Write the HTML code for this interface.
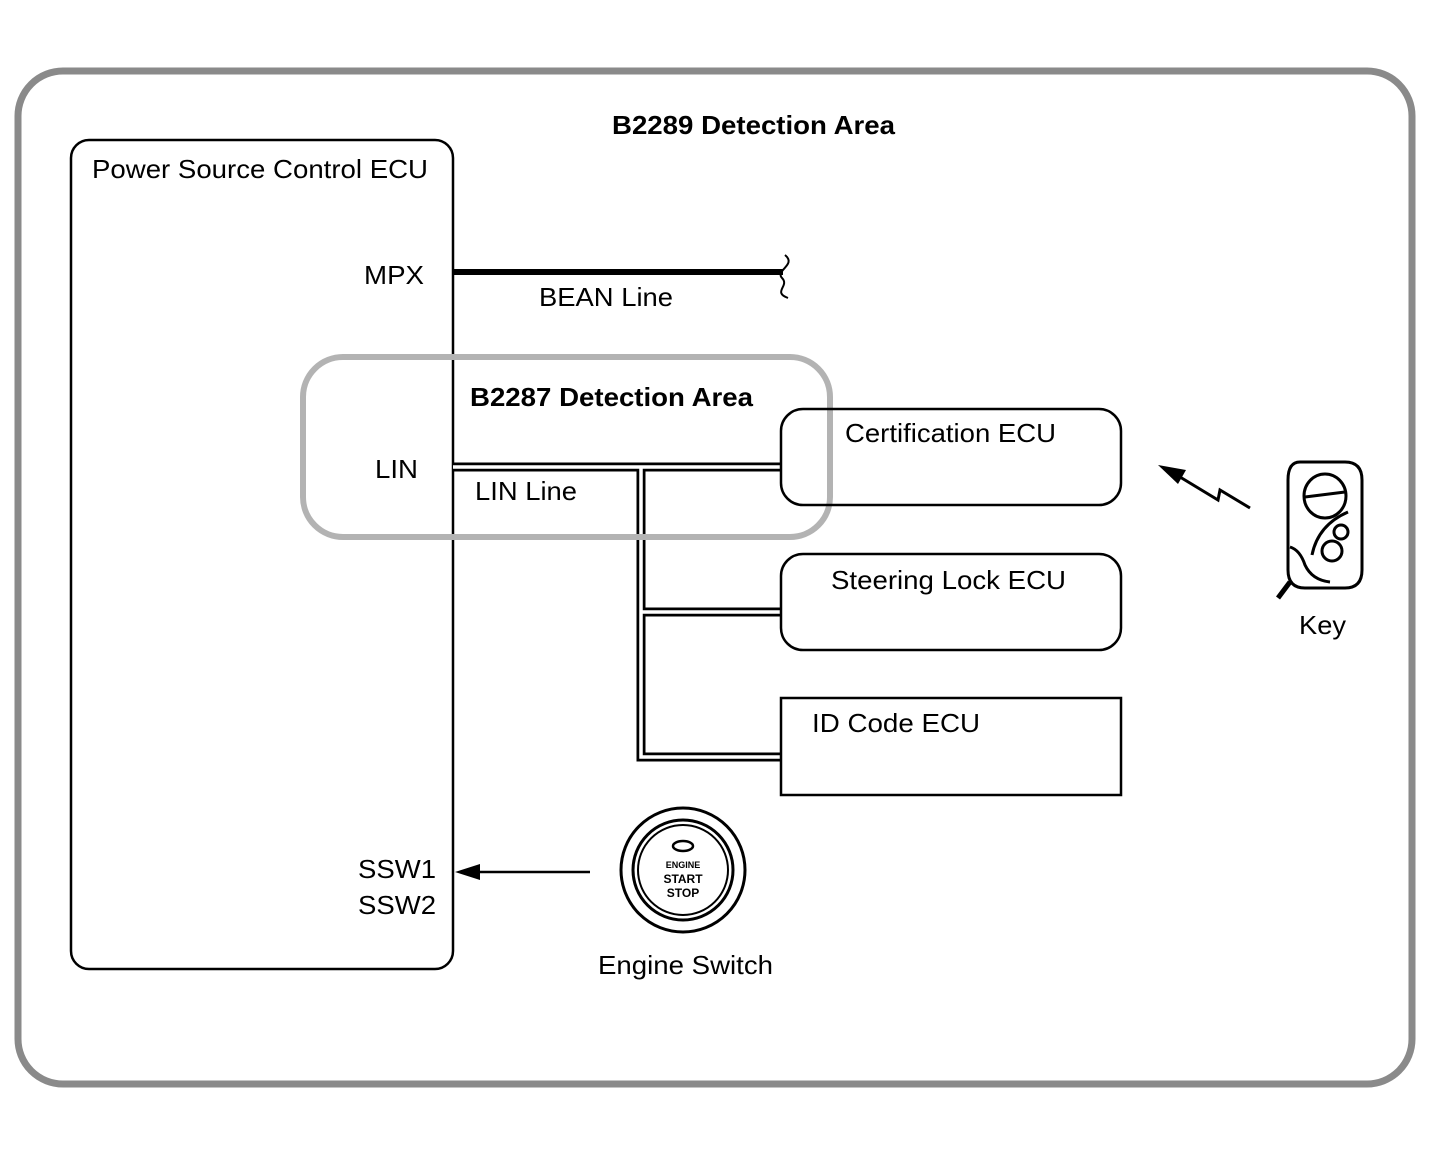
<!DOCTYPE html>
<html><head><meta charset="utf-8"><style>
html,body{margin:0;padding:0;background:#fff;}
svg{display:block;font-family:"Liberation Sans",Arial,sans-serif;}
</style></head><body>
<svg width="1433" height="1150" viewBox="0 0 1433 1150" xmlns="http://www.w3.org/2000/svg">
<rect x="18" y="71" width="1394" height="1013" rx="45" fill="none" stroke="#8a8a8a" stroke-width="7"/>
<g font-size="26" lengthAdjust="spacingAndGlyphs">
<text x="612" y="134" font-weight="bold" textLength="283" lengthAdjust="spacingAndGlyphs">B2289 Detection Area</text>
<text x="92" y="178" textLength="336" lengthAdjust="spacingAndGlyphs">Power Source Control ECU</text>
<text x="364" y="284" textLength="60" lengthAdjust="spacingAndGlyphs">MPX</text>
<text x="375" y="478" textLength="43" lengthAdjust="spacingAndGlyphs">LIN</text>
<text x="358" y="878" textLength="78" lengthAdjust="spacingAndGlyphs">SSW1</text>
<text x="358" y="914" textLength="78" lengthAdjust="spacingAndGlyphs">SSW2</text>
<text x="539" y="306" textLength="134" lengthAdjust="spacingAndGlyphs">BEAN Line</text>
<text x="470" y="406" font-weight="bold" textLength="283" lengthAdjust="spacingAndGlyphs">B2287 Detection Area</text>
<text x="475" y="500" textLength="102" lengthAdjust="spacingAndGlyphs">LIN Line</text>
<text x="845" y="442" textLength="211" lengthAdjust="spacingAndGlyphs">Certification ECU</text>
<text x="831" y="589" textLength="235" lengthAdjust="spacingAndGlyphs">Steering Lock ECU</text>
<text x="812" y="732" textLength="168" lengthAdjust="spacingAndGlyphs">ID Code ECU</text>
<text x="598" y="974" textLength="175" lengthAdjust="spacingAndGlyphs">Engine Switch</text>
<text x="1299" y="634" textLength="47" lengthAdjust="spacingAndGlyphs">Key</text>
</g>
<rect x="71" y="140" width="382" height="829" rx="18" fill="none" stroke="#000" stroke-width="2.5"/>
<line x1="453" y1="272" x2="783" y2="272" stroke="#000" stroke-width="6"/>
<path d="M785,255 C797,265 775,270 782,278 C790,286 772,292 788,298" fill="none" stroke="#000" stroke-width="2"/>
<g fill="none" stroke-linejoin="miter">
<path d="M453,467 H780 M641,467 V757 H780 M641,612 H780" stroke="#000" stroke-width="9"/>
<path d="M453,467 H780 M641,467 V757 H780 M641,612 H780" stroke="#fff" stroke-width="3.5"/>
</g>
<rect x="303" y="357" width="527" height="180" rx="40" fill="none" stroke="#b3b3b3" stroke-width="6"/>
<rect x="781" y="409" width="340" height="96" rx="22" fill="none" stroke="#000" stroke-width="2.5"/>
<rect x="781" y="554" width="340" height="96" rx="22" fill="none" stroke="#000" stroke-width="2.5"/>
<rect x="781" y="698" width="340" height="97" fill="none" stroke="#000" stroke-width="2.5"/>
<line x1="470" y1="872" x2="590" y2="872" stroke="#000" stroke-width="2.5"/>
<polygon points="455,872 480,864 480,880" fill="#000"/>
<circle cx="683" cy="870" r="62" fill="none" stroke="#000" stroke-width="3"/>
<circle cx="683" cy="870" r="50" fill="none" stroke="#000" stroke-width="3"/>
<circle cx="683" cy="870" r="45" fill="none" stroke="#000" stroke-width="2"/>
<ellipse cx="683" cy="846" rx="10" ry="5" fill="none" stroke="#000" stroke-width="2.5"/>
<text x="683" y="868" font-size="9" font-weight="bold" text-anchor="middle">ENGINE</text>
<text x="683" y="883" font-size="12" font-weight="bold" text-anchor="middle">START</text>
<text x="683" y="897" font-size="12" font-weight="bold" text-anchor="middle">STOP</text>
<path d="M1250,508 L1220,490 L1218,500 L1180,477" fill="none" stroke="#000" stroke-width="3"/>
<polygon points="1158,465 1186,470 1178,484" fill="#000"/>
<g fill="none" stroke="#000" stroke-width="3">
<path d="M1300,462 H1345 Q1362,462 1362,480 V570 Q1362,588 1345,588 H1305 Q1288,588 1288,570 V480 Q1288,462 1300,462 Z"/>
<ellipse cx="1325" cy="496" rx="21" ry="22"/>
<line x1="1305" y1="497" x2="1345" y2="492"/>
<circle cx="1341" cy="532" r="7"/>
<circle cx="1332" cy="551" r="10"/>
<path d="M1290,547 Q1300,550 1305,565 Q1312,580 1330,582"/>
<path d="M1348,512 Q1318,525 1312,555"/>
</g>
<line x1="1290" y1="582" x2="1278" y2="598" stroke="#000" stroke-width="5"/>
</svg>
</body></html>
